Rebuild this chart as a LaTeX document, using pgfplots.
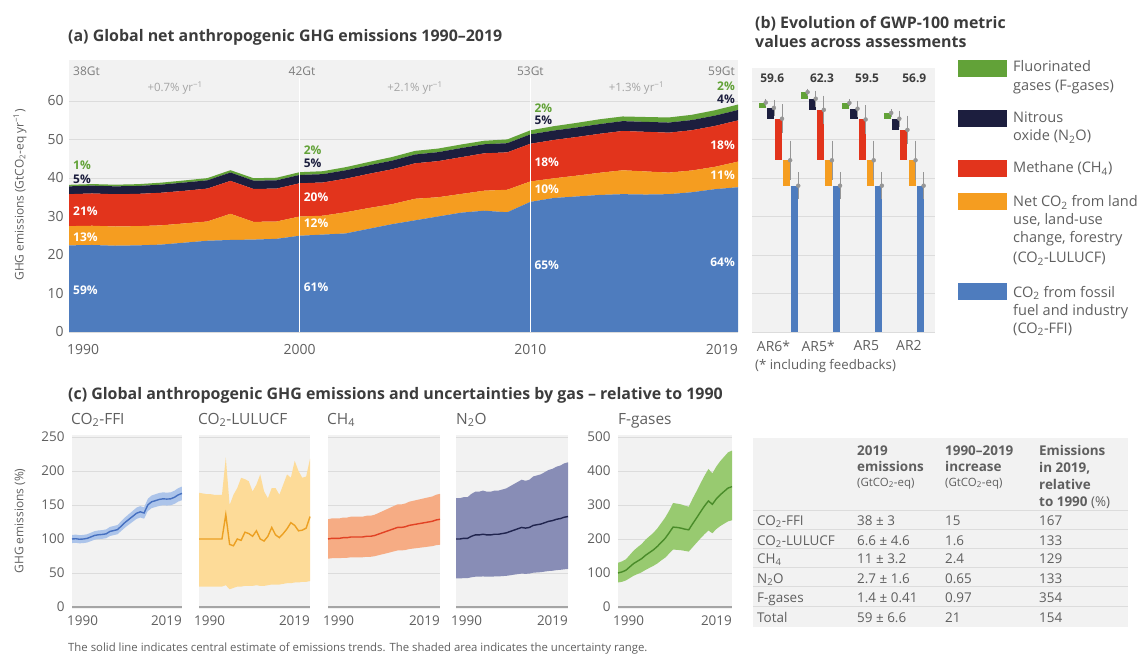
\documentclass[border=0pt]{standalone}
\usepackage{pgfplots}
\pgfplotsset{compat=1.18}
\usepackage{pgfplotstable}
\usepackage{fontspec}
\setmainfont{Open Sans}

\definecolor{bgc}{RGB}{242,242,242}
\definecolor{gridc}{RGB}{220,220,220}
\definecolor{zeroc}{RGB}{165,165,165}
\definecolor{labc}{RGB}{95,95,95}
\definecolor{titc}{RGB}{60,60,60}
\definecolor{gtc}{RGB}{125,125,125}
\definecolor{ratec}{RGB}{165,165,165}
\definecolor{cffi}{RGB}{78,124,190}
\definecolor{clu}{RGB}{245,157,32}
\definecolor{cch}{RGB}{226,52,28}
\definecolor{cno}{RGB}{28,30,62}
\definecolor{cfg}{RGB}{98,162,56}
\definecolor{bffi}{RGB}{172,196,234}
\definecolor{lffi}{RGB}{70,112,192}
\definecolor{blu}{RGB}{253,219,152}
\definecolor{llu}{RGB}{236,160,34}
\definecolor{bch}{RGB}{246,172,132}
\definecolor{lch}{RGB}{226,66,36}
\definecolor{bno}{RGB}{136,141,182}
\definecolor{lno}{RGB}{32,36,78}
\definecolor{bfg}{RGB}{152,202,112}
\definecolor{lfg}{RGB}{74,140,42}
\definecolor{errc}{RGB}{150,150,150}

\newcommand{\sub}[1]{\textsubscript{#1}}
\newcommand{\fs}[1]{\fontsize{#1}{#1}\selectfont}

% Net anthropogenic emissions by gas, GtCO2-eq per year
\pgfplotstableread{
year ffi  lu   ch4   n2o  fg
1990 22.5 5.00 8.30  2.03 0.40
1991 22.6 5.00 8.38  2.03 0.41
1992 22.4 5.00 8.38  2.05 0.43
1993 22.5 5.00 8.38  2.05 0.47
1994 22.7 5.00 8.47  2.11 0.51
1995 23.2 5.00 8.47  2.15 0.54
1996 23.7 5.00 8.55  2.15 0.57
1997 23.9 6.80 8.55  2.17 0.61
1998 24.0 4.60 8.55  2.15 0.64
1999 24.2 4.50 8.55  2.15 0.67
2000 25.0 5.00 8.63  2.17 0.71
2001 25.3 4.90 8.63  2.17 0.76
2002 25.6 5.50 8.72  2.19 0.81
2003 26.8 5.40 8.88  2.21 0.87
2004 28.0 5.20 9.05  2.25 0.94
2005 29.0 5.60 9.21  2.29 0.94
2006 30.0 5.00 9.38  2.33 0.93
2007 31.0 4.85 9.55  2.38 0.92
2008 31.5 5.20 9.71  2.35 0.91
2009 31.1 5.85 9.71  2.38 0.98
2010 33.8 5.30 9.79  2.44 1.05
2011 34.8 5.10 9.96  2.46 1.12
2012 35.2 5.40 10.04 2.48 1.19
2013 35.6 5.75 10.13 2.52 1.25
2014 35.8 6.20 10.21 2.56 1.21
2015 35.7 6.00 10.29 2.58 1.27
2016 35.8 5.60 10.38 2.62 1.32
2017 36.3 5.65 10.46 2.64 1.36
2018 37.1 5.80 10.62 2.68 1.40
2019 37.6 6.65 10.71 2.70 1.42
}\ghg

% Emissions relative to 1990 (%): central estimates
\pgfplotstableread{
year ffi   lu  ch4 n2o fg
1990 100   100 100 100 100
1991 100.4 100 101 100 103
1992 99.6  100 101 101 108
1993 100   100 101 101 118
1994 100.9 100 102 104 128
1995 103.1 100 102 106 135
1996 105.3 100 103 106 142
1997 106.2 136 103 107 152
1998 106.7 92  103 106 160
1999 107.6 90  103 106 168
2000 111.1 100 104 107 178
2001 112.4 98  104 107 190
2002 113.8 110 105 108 202
2003 119.1 108 107 109 218
2004 124.4 104 109 111 235
2005 128.9 112 111 113 234
2006 133.3 100 113 115 232
2007 137.8 97  115 117 229
2008 140   104 117 116 227
2009 138.2 117 117 117 245
2010 150.2 106 118 120 262
2011 154.7 102 120 121 280
2012 156.4 108 121 122 297
2013 158.2 115 122 124 312
2014 159.1 124 123 126 302
2015 158.7 120 124 127 318
2016 159.1 112 125 129 330
2017 161.3 113 126 130 340
2018 164.9 116 128 132 350
2019 167.1 133 129 133 354
}\rel

% Uncertainty ranges as outlines: upper bound 1990->2019, then lower bound 2019->1990
\pgfplotstableread[row sep=\\]{
year val \\
1990 106 \\ 1991 106.4 \\ 1992 105.6 \\ 1993 106 \\ 1994 107 \\ 1995 109.3 \\ 1996 111.6 \\ 1997 112.6 \\ 1998 113.1 \\ 1999 114.1 \\
2000 117.8 \\ 2001 119.1 \\ 2002 120.6 \\ 2003 126.2 \\ 2004 131.9 \\ 2005 136.6 \\ 2006 141.3 \\ 2007 146.1 \\ 2008 148.4 \\ 2009 146.5 \\
2010 159.2 \\ 2011 164 \\ 2012 165.8 \\ 2013 167.7 \\ 2014 168.6 \\ 2015 168.2 \\ 2016 168.6 \\ 2017 171 \\ 2018 174.8 \\ 2019 177.1 \\
2019 157.1 \\ 2018 155 \\ 2017 151.6 \\ 2016 149.6 \\ 2015 149.2 \\ 2014 149.6 \\ 2013 148.7 \\ 2012 147 \\ 2011 145.4 \\ 2010 141.2 \\
2009 129.9 \\ 2008 131.6 \\ 2007 129.5 \\ 2006 125.3 \\ 2005 121.2 \\ 2004 116.9 \\ 2003 112 \\ 2002 107 \\ 2001 105.7 \\ 2000 104.4 \\
1999 101.1 \\ 1998 100.3 \\ 1997 99.8 \\ 1996 99 \\ 1995 96.9 \\ 1994 94.8 \\ 1993 94 \\ 1992 93.6 \\ 1991 94.4 \\ 1990 94 \\
}\bandffi

\pgfplotstableread[row sep=\\]{
year val \\
1990 168 \\ 1991 167 \\ 1992 166 \\ 1993 166 \\ 1994 165 \\ 1995 165 \\ 1996 165 \\ 1997 220 \\ 1998 150 \\ 1999 165 \\
2000 175 \\ 2001 190 \\ 2002 188 \\ 2003 185 \\ 2004 170 \\ 2005 180 \\ 2006 195 \\ 2007 170 \\ 2008 160 \\ 2009 175 \\
2010 175 \\ 2011 165 \\ 2012 180 \\ 2013 195 \\ 2014 190 \\ 2015 215 \\ 2016 200 \\ 2017 190 \\ 2018 192 \\ 2019 218 \\
2019 38 \\ 2018 37 \\ 2017 37 \\ 2016 36 \\ 2015 36 \\ 2014 35 \\ 2013 35 \\ 2012 34 \\ 2011 33 \\ 2010 33 \\
2009 33 \\ 2008 32 \\ 2007 31 \\ 2006 31 \\ 2005 32 \\ 2004 31 \\ 2003 31 \\ 2002 31 \\ 2001 30 \\ 2000 30 \\
1999 28 \\ 1998 26 \\ 1997 32 \\ 1996 30 \\ 1995 30 \\ 1994 30 \\ 1993 30 \\ 1992 30 \\ 1991 30 \\ 1990 30 \\
}\bandlu

\pgfplotstableread[row sep=\\]{
year val \\
1990 129 \\ 1991 130.3 \\ 1992 130.3 \\ 1993 130.3 \\ 1994 131.6 \\ 1995 131.6 \\ 1996 132.9 \\ 1997 132.9 \\ 1998 132.9 \\ 1999 132.9 \\
2000 134.2 \\ 2001 134.2 \\ 2002 135.5 \\ 2003 138 \\ 2004 140.6 \\ 2005 143.2 \\ 2006 145.8 \\ 2007 148.4 \\ 2008 150.9 \\ 2009 150.9 \\
2010 152.2 \\ 2011 154.8 \\ 2012 156.1 \\ 2013 157.4 \\ 2014 158.7 \\ 2015 160 \\ 2016 161.3 \\ 2017 162.5 \\ 2018 165.1 \\ 2019 166.4 \\
2019 91.6 \\ 2018 90.9 \\ 2017 89.5 \\ 2016 88.8 \\ 2015 88 \\ 2014 87.3 \\ 2013 86.6 \\ 2012 85.9 \\ 2011 85.2 \\ 2010 83.8 \\
2009 83.1 \\ 2008 83.1 \\ 2007 81.7 \\ 2006 80.2 \\ 2005 78.8 \\ 2004 77.4 \\ 2003 76 \\ 2002 74.6 \\ 2001 73.8 \\ 2000 73.8 \\
1999 73.1 \\ 1998 73.1 \\ 1997 73.1 \\ 1996 73.1 \\ 1995 72.4 \\ 1994 72.4 \\ 1993 71.7 \\ 1992 71.7 \\ 1991 71.7 \\ 1990 71 \\
}\bandch

\pgfplotstableread[row sep=\\]{
year val \\
1990 160 \\ 1991 160 \\ 1992 161.6 \\ 1993 161.6 \\ 1994 166.4 \\ 1995 169.6 \\ 1996 169.6 \\ 1997 171.2 \\ 1998 169.6 \\ 1999 169.6 \\
2000 171.2 \\ 2001 171.2 \\ 2002 172.8 \\ 2003 174.4 \\ 2004 177.6 \\ 2005 180.8 \\ 2006 184 \\ 2007 187.2 \\ 2008 185.6 \\ 2009 187.2 \\
2010 192 \\ 2011 193.6 \\ 2012 195.2 \\ 2013 198.4 \\ 2014 201.6 \\ 2015 203.2 \\ 2016 206.4 \\ 2017 208 \\ 2018 211.2 \\ 2019 212.8 \\
2019 55.9 \\ 2018 55.4 \\ 2017 54.6 \\ 2016 54.2 \\ 2015 53.3 \\ 2014 52.9 \\ 2013 52.1 \\ 2012 51.2 \\ 2011 50.8 \\ 2010 50.4 \\
2009 49.1 \\ 2008 48.7 \\ 2007 49.1 \\ 2006 48.3 \\ 2005 47.5 \\ 2004 46.6 \\ 2003 45.8 \\ 2002 45.4 \\ 2001 44.9 \\ 2000 44.9 \\
1999 44.5 \\ 1998 44.5 \\ 1997 44.9 \\ 1996 44.5 \\ 1995 44.5 \\ 1994 43.7 \\ 1993 42.4 \\ 1992 42.4 \\ 1991 42 \\ 1990 42 \\
}\bandno

\pgfplotstableread[row sep=\\]{
year val \\
1990 130 \\ 1991 134 \\ 1992 140 \\ 1993 153 \\ 1994 166 \\ 1995 176 \\ 1996 185 \\ 1997 198 \\ 1998 208 \\ 1999 218 \\
2000 231 \\ 2001 247 \\ 2002 263 \\ 2003 283 \\ 2004 306 \\ 2005 304 \\ 2006 302 \\ 2007 298 \\ 2008 295 \\ 2009 319 \\
2010 341 \\ 2011 364 \\ 2012 386 \\ 2013 406 \\ 2014 393 \\ 2015 413 \\ 2016 429 \\ 2017 442 \\ 2018 455 \\ 2019 460 \\
2019 255 \\ 2018 252 \\ 2017 245 \\ 2016 238 \\ 2015 229 \\ 2014 217 \\ 2013 225 \\ 2012 214 \\ 2011 202 \\ 2010 189 \\
2009 176 \\ 2008 163 \\ 2007 165 \\ 2006 167 \\ 2005 168 \\ 2004 169 \\ 2003 157 \\ 2002 145 \\ 2001 137 \\ 2000 128 \\
1999 121 \\ 1998 115 \\ 1997 109 \\ 1996 102 \\ 1995 97 \\ 1994 92 \\ 1993 85 \\ 1992 78 \\ 1991 74 \\ 1990 72 \\
}\bandfg

% GWP-100 waterfall: bar top and uncertainty at the bar's right edge
\pgfplotstableread{
x      y    e
0.472  38.0 3.0
0.278  44.6 4.6
0.084  55.4 3.2
-0.110 58.2 1.6
-0.304 59.6 0.41
1.472  38.0 3.0
1.278  44.6 4.6
1.084  57.7 3.2
0.890  60.6 1.6
0.696  62.3 0.41
2.472  38.0 3.0
2.278  44.6 4.6
2.084  55.2 3.2
1.890  58.0 1.6
1.696  59.5 0.41
3.472  38.0 3.0
3.278  44.6 4.6
3.084  52.5 3.2
2.890  55.4 1.6
2.696  56.9 0.41
}\gwperr

% floating bar: left, right, bottom, top, colour
\newcommand{\fbar}[5]{\addplot[fill=#5, draw=none] coordinates {(#1,#3) (#2,#3) (#2,#4) (#1,#4)} -- cycle;}

\tikzset{
  pct/.style={font={\fs{12}\bfseries}, text=white, inner sep=0pt},
  gt/.style={font=\fs{12}, text=gtc, inner sep=0pt},
  rate/.style={font=\fs{11.5}, text=ratec, inner sep=0pt},
  yrlab/.style={font=\fs{14}, text=labc, inner sep=0pt},
  ttl/.style={anchor=base west, font={\fs{16}\bfseries}, text=titc, inner sep=0pt},
}
\pgfplotsset{
  base/.style={
    scale only axis, clip mode=individual,
    axis background/.style={fill=bgc},
    axis line style={draw=none},
    major tick length=0pt,
    ymajorgrids, grid style={draw=gridc, line width=0.9bp},
    tick label style={font=\fs{14}, text=labc},
    /pgf/number format/assume math mode=true,
    /pgf/number format/1000 sep={},
  },
  framea/.style={at={(69bp,324bp)}, anchor=south west, scale only axis,
    width=669bp, height=272bp, xmin=1990, xmax=2019, ymin=0, ymax=70.65},
  panelc/.style={base, clip=false, anchor=south west, width=111bp, height=174bp,
    xmin=1990, xmax=2019, ymin=-3, ymax=253, ytick={0,50,...,250},
    xtick={1990,2019}, xticklabels={},
    tick label style={font=\fs{13.5}},
    yticklabel style={xshift=-4bp}},
}

\begin{document}
\begin{tikzpicture}
\path[use as bounding box] (0,0) rectangle (1143bp,656bp);

% ---------- (a) stacked emissions ----------
\begin{axis}[base, framea, ytick={0,10,...,60},
  xtick={1990,2000,2010,2019}, xticklabels={},
  yticklabel style={xshift=-2bp}, stack plots=y]
\addplot[fill=cffi, draw=none] table[x=year, y=ffi] {\ghg} \closedcycle;
\addplot[fill=clu, draw=none] table[x=year, y=lu] {\ghg} \closedcycle;
\addplot[fill=cch, draw=none] table[x=year, y=ch4] {\ghg} \closedcycle;
\addplot[fill=cno, draw=none] table[x=year, y=n2o] {\ghg} \closedcycle;
\addplot[fill=cfg, draw=none] table[x=year, y=fg] {\ghg} \closedcycle;
% year labels
\node[yrlab, anchor=base west, xshift=-2bp, yshift=-23bp] at (rel axis cs:0,0) {1990};
\node[yrlab, anchor=base, yshift=-23bp] at (axis cs:2000,0) {2000};
\node[yrlab, anchor=base, yshift=-23bp] at (axis cs:2010,0) {2010};
\node[yrlab, anchor=base east, yshift=-23bp] at (rel axis cs:1,0) {2019};
\end{axis}

% decade markers and annotations over the stacked areas
\begin{axis}[framea, axis lines=none, clip=false]
\draw[white, line width=1.2bp] (axis cs:2000,0) -- (axis cs:2000,66);
\draw[white, line width=1.2bp] (axis cs:2010,0) -- (axis cs:2010,66);
\node[pct, anchor=west, xshift=4bp] at (axis cs:1990,10.9) {59\%};
\node[pct, anchor=west, xshift=4bp] at (axis cs:1990,24.6) {13\%};
\node[pct, anchor=west, xshift=4bp] at (axis cs:1990,31.4) {21\%};
\node[pct, anchor=west, xshift=4bp, text=cno] at (axis cs:1990,39.6) {5\%};
\node[pct, anchor=west, xshift=4bp, text=cfg] at (axis cs:1990,43.3) {1\%};
\node[pct, anchor=west, xshift=4bp] at (axis cs:2000,11.7) {61\%};
\node[pct, anchor=west, xshift=4bp] at (axis cs:2000,28.3) {12\%};
\node[pct, anchor=west, xshift=4bp] at (axis cs:2000,35.0) {20\%};
\node[pct, anchor=west, xshift=4bp, text=cno] at (axis cs:2000,43.9) {5\%};
\node[pct, anchor=west, xshift=4bp, text=cfg] at (axis cs:2000,47.3) {2\%};
\node[pct, anchor=west, xshift=4bp] at (axis cs:2010,17.4) {65\%};
\node[pct, anchor=west, xshift=4bp] at (axis cs:2010,37.0) {10\%};
\node[pct, anchor=west, xshift=4bp] at (axis cs:2010,44.2) {18\%};
\node[pct, anchor=west, xshift=4bp, text=cno] at (axis cs:2010,55.0) {5\%};
\node[pct, anchor=west, xshift=4bp, text=cfg] at (axis cs:2010,58.2) {2\%};
\node[pct, anchor=east, xshift=-3bp] at (axis cs:2019,18.2) {64\%};
\node[pct, anchor=east, xshift=-3bp] at (axis cs:2019,40.8) {11\%};
\node[pct, anchor=east, xshift=-3bp] at (axis cs:2019,48.6) {18\%};
\node[pct, anchor=east, xshift=-3bp, text=cno] at (axis cs:2019,60.5) {4\%};
\node[pct, anchor=east, xshift=-3bp, text=cfg] at (axis cs:2019,63.9) {2\%};
\node[gt, anchor=west, xshift=4bp] at (axis cs:1990,67.8) {38Gt};
\node[gt] at (axis cs:2000.1,67.8) {42Gt};
\node[gt] at (axis cs:2010,67.8) {53Gt};
\node[gt, anchor=east, xshift=-3bp] at (axis cs:2019,67.8) {59Gt};
\node[rate] at (axis cs:1994.6,63.4) {+0.7\% yr\textsuperscript{−1}};
\node[rate] at (axis cs:2005.0,63.4) {+2.1\% yr\textsuperscript{−1}};
\node[rate] at (axis cs:2014.6,63.4) {+1.3\% yr\textsuperscript{−1}};
\end{axis}

% ---------- (b) GWP-100 metric values ----------
\begin{axis}[base, at={(752bp,324bp)}, anchor=south west, width=183bp, height=264bp,
  xmin=-0.634, xmax=3.744, ymin=0, ymax=68.57, ytick={0,10,...,60}, yticklabels={},
  xtick={-0.12,0.95,2.1,3.12}, xticklabels={AR6*,AR5*,AR5,AR2},
  xticklabel style={yshift=-5bp}]
% AR6*
\fbar{0.304}{0.472}{0}{38.0}{cffi}
\fbar{0.110}{0.278}{38.0}{44.6}{clu}
\fbar{-0.084}{0.084}{44.6}{55.4}{cch}
\fbar{-0.278}{-0.110}{55.4}{58.2}{cno}
\fbar{-0.472}{-0.304}{58.2}{59.6}{cfg}
% AR5*
\fbar{1.304}{1.472}{0}{38.0}{cffi}
\fbar{1.110}{1.278}{38.0}{44.6}{clu}
\fbar{0.916}{1.084}{44.6}{57.7}{cch}
\fbar{0.722}{0.890}{57.7}{60.6}{cno}
\fbar{0.528}{0.696}{60.6}{62.3}{cfg}
% AR5
\fbar{2.304}{2.472}{0}{38.0}{cffi}
\fbar{2.110}{2.278}{38.0}{44.6}{clu}
\fbar{1.916}{2.084}{44.6}{55.2}{cch}
\fbar{1.722}{1.890}{55.2}{58.0}{cno}
\fbar{1.528}{1.696}{58.0}{59.5}{cfg}
% AR2
\fbar{3.304}{3.472}{0}{38.0}{cffi}
\fbar{3.110}{3.278}{38.0}{44.6}{clu}
\fbar{2.916}{3.084}{44.6}{52.5}{cch}
\fbar{2.722}{2.890}{52.5}{55.4}{cno}
\fbar{2.528}{2.696}{55.4}{56.9}{cfg}
\addplot[only marks, mark=none, errc,
  error bars/.cd, y dir=both, y explicit,
  error bar style={draw=errc, line width=0.7bp},
  error mark=-, error mark options={draw=errc, line width=0.7bp, mark size=2bp}]
  table[x=x, y=y, y error=e] {\gwperr};
\node[font={\fs{12}\bfseries}, text=titc] at (axis cs:-0.15,66) {59.6};
\node[font={\fs{12}\bfseries}, text=titc] at (axis cs:1.04,66) {62.3};
\node[font={\fs{12}\bfseries}, text=titc] at (axis cs:2.12,66) {59.5};
\node[font={\fs{12}\bfseries}, text=titc] at (axis cs:3.25,66) {56.9};
\end{axis}

% ---------- (c) emissions relative to 1990 ----------
\begin{axis}[panelc, at={(72bp,47bp)}, width=110bp]
\addplot[fill=bffi, draw=none] table[x=year, y=val] {\bandffi} -- cycle;
\addplot[lffi, line width=1.4bp] table[x=year, y=ffi] {\rel};
\draw[zeroc, line width=2bp] (axis cs:1990,0) -- (axis cs:2019,0);
\end{axis}

\begin{axis}[panelc, at={(199bp,47bp)}, yticklabels={}]
\addplot[fill=blu, draw=none] table[x=year, y=val] {\bandlu} -- cycle;
\addplot[llu, line width=1.4bp] table[x=year, y=lu] {\rel};
\draw[zeroc, line width=2bp] (axis cs:1990,0) -- (axis cs:2019,0);
\end{axis}

\begin{axis}[panelc, at={(328bp,47bp)}, width=112bp, yticklabels={}]
\addplot[fill=bch, draw=none] table[x=year, y=val] {\bandch} -- cycle;
\addplot[lch, line width=1.4bp] table[x=year, y=ch4] {\rel};
\draw[zeroc, line width=2bp] (axis cs:1990,0) -- (axis cs:2019,0);
\end{axis}

\begin{axis}[panelc, at={(456bp,47bp)}, width=112bp, yticklabels={}]
\addplot[fill=bno, draw=none] table[x=year, y=val] {\bandno} -- cycle;
\addplot[lno, line width=1.4bp] table[x=year, y=n2o] {\rel};
\draw[zeroc, line width=2bp] (axis cs:1990,0) -- (axis cs:2019,0);
\end{axis}

\begin{axis}[panelc, at={(618bp,47bp)}, width=114bp, ymin=-6, ymax=506, ytick={0,100,...,500}]
\addplot[fill=bfg, draw=none] table[x=year, y=val] {\bandfg} -- cycle;
\addplot[lfg, line width=1.4bp] table[x=year, y=fg] {\rel};
\draw[zeroc, line width=2bp] (axis cs:1990,0) -- (axis cs:2019,0);
\end{axis}

% ---------- titles, legend, table and notes ----------
\begin{scope}[x=1bp, y=1bp]
\node[ttl] at (68,614) {(a) Global net anthropogenic GHG emissions 1990--2019};
\node[rotate=90, font=\fs{12}, text=labc, inner sep=0pt] at (20,461)
  {GHG emissions (GtCO\sub{2}-eq yr\textsuperscript{−1})};

\node[ttl] at (755,627) {(b) Evolution of GWP-100 metric};
\node[ttl] at (755,608) {values across assessments};
\node[anchor=base west, font=\fs{13.3}, text=labc, inner sep=0pt] at (755,287)
  {(* including feedbacks)};

% legend
\fill[cfg] (958,579) rectangle (1007,596);
\fill[cno] (958,529) rectangle (1007,546);
\fill[cch] (958,479) rectangle (1007,496);
\fill[clu] (958,446) rectangle (1007,463);
\fill[cffi] (958,356) rectangle (1007,373);
\begin{scope}[every node/.style={anchor=base west, font=\fs{14.6}, text=labc, inner sep=0pt}]
\node at (1013,584) {Fluorinated};
\node at (1013,565) {gases (F-gases)};
\node at (1013,533) {Nitrous};
\node at (1013,515) {oxide (N\sub{2}O)};
\node at (1013,483) {Methane (CH\sub{4})};
\node at (1013,449) {Net CO\sub{2} from land};
\node at (1013,431) {use, land-use};
\node at (1013,413) {change, forestry};
\node at (1013,393) {(CO\sub{2}-LULUCF)};
\node at (1013,359) {CO\sub{2} from fossil};
\node at (1013,341) {fuel and industry};
\node at (1013,323) {(CO\sub{2}-FFI)};
\end{scope}

\node[ttl] at (68,257) {(c) Global anthropogenic GHG emissions and uncertainties by gas -- relative to 1990};
\node[rotate=90, font=\fs{12}, text=labc, inner sep=0pt] at (20,135) {GHG emissions (\%)};
\begin{scope}[every node/.style={anchor=base west, font=\fs{15.5}, text=labc, inner sep=0pt}]
\node at (71,232) {CO\sub{2}-FFI};
\node at (198,232) {CO\sub{2}-LULUCF};
\node at (327,232) {CH\sub{4}};
\node at (456,232) {N\sub{2}O};
\node at (618,232) {F-gases};
\end{scope}
% year labels under the small panels
\begin{scope}[every node/.style={font=\fs{13.5}, text=labc, inner sep=0pt}]
\node[anchor=base west] at (67,31) {1990};  \node[anchor=base east] at (182,31) {2019};
\node[anchor=base west] at (194,31) {1990}; \node[anchor=base east] at (310,31) {2019};
\node[anchor=base west] at (323,31) {1990}; \node[anchor=base east] at (440,31) {2019};
\node[anchor=base west] at (451,31) {1990}; \node[anchor=base east] at (568,31) {2019};
\node[anchor=base west] at (613,31) {1990}; \node[anchor=base east] at (732,31) {2019};
\end{scope}

% summary table
\fill[bgc] (753,29) rectangle (1128,218);
\foreach \yy in {145,126,107,88,69,49} \draw[gridc, line width=1bp] (753,\yy) -- (1128,\yy);
\begin{scope}[every node/.style={anchor=base west, font={\fs{13.5}\bfseries}, text=labc, inner sep=0pt}]
\node at (857,201) {2019};
\node at (857,185) {emissions};
\node at (945,201) {1990--2019};
\node at (945,185) {increase};
\node at (1039,201) {Emissions};
\node at (1039,184) {in 2019,};
\node at (1039,167) {relative};
\node at (1039,150) {to 1990 \textmd{(\%)}};
\end{scope}
\begin{scope}[every node/.style={anchor=base west, font=\fs{11.5}, text=labc, inner sep=0pt}]
\node at (857,170) {(GtCO\sub{2}-eq)};
\node at (945,170) {(GtCO\sub{2}-eq)};
\end{scope}
\begin{scope}[every node/.style={anchor=base west, font=\fs{13.5}, text=labc, inner sep=0pt}]
\node at (757,131) {CO\sub{2}-FFI};      \node at (857,131) {38 ± 3};      \node at (945,131) {15};   \node at (1039,131) {167};
\node at (757,111) {CO\sub{2}-LULUCF};   \node at (857,111) {6.6 ± 4.6};   \node at (945,111) {1.6};  \node at (1039,111) {133};
\node at (757,93)  {CH\sub{4}};          \node at (857,93)  {11 ± 3.2};    \node at (945,93)  {2.4};  \node at (1039,93)  {129};
\node at (757,73)  {N\sub{2}O};          \node at (857,73)  {2.7 ± 1.6};   \node at (945,73)  {0.65}; \node at (1039,73)  {133};
\node at (757,54)  {F-gases};            \node at (857,54)  {1.4 ± 0.41};  \node at (945,54)  {0.97}; \node at (1039,54)  {354};
\node at (757,34)  {Total};              \node at (857,34)  {59 ± 6.6};    \node at (945,34)  {21};   \node at (1039,34)  {154};
\end{scope}

% note
\node[anchor=base west, font=\fs{11.4}, text=labc, inner sep=0pt] at (68,5)
  {The solid line indicates central estimate of emissions trends. The shaded area indicates the uncertainty range.};
\end{scope}
\end{tikzpicture}
\end{document}
